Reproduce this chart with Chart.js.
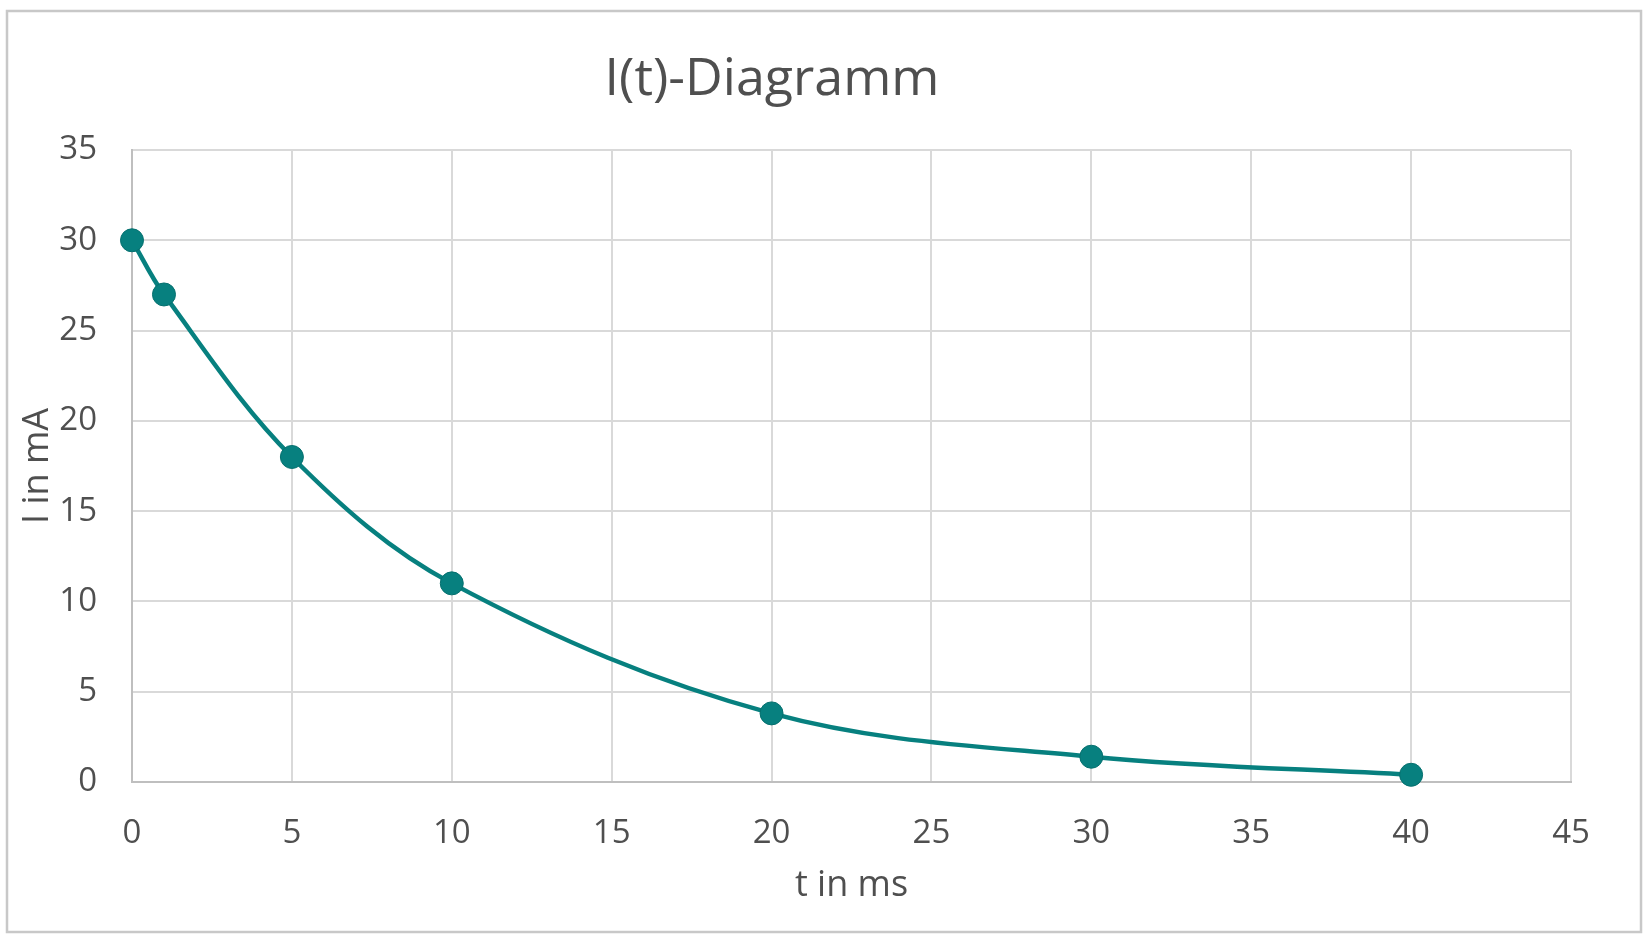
<!DOCTYPE html>
<html>
<head>
<meta charset="utf-8">
<title>I(t)-Diagramm</title>
<script src="https://cdn.jsdelivr.net/npm/chart.js@4.4.1/dist/chart.umd.min.js"></script>
<style>
    html, body { margin: 0; padding: 0; background: #fff; }
    #wrap { width: 1652px; height: 952px; position: relative; }
</style>
</head>
<body>
<div id="wrap"><canvas id="chart"></canvas></div>
<script>
// I(t) discharge curve values
const timeMs = [0, 1, 5, 10, 20, 30, 40];
const currentMa = [30, 27, 18, 11, 3.8, 1.4, 0.4];
const xTicks = { min: 0, max: 45, step: 5 };
const yTicks = { min: 0, max: 35, step: 5 };

const TEXT = '#4f4f4f';
const GRID = '#d9d9d9';
const AXIS = '#bfbfbf';
const TEAL = '#07807f';
const FONT = "'Open Sans', 'DejaVu Sans', sans-serif";

// outer frame + title (Excel style)
const framePlugin = {
    id: 'frame',
    beforeDraw(chart) {
        const ctx = chart.ctx;
        ctx.save();
        ctx.fillStyle = '#fff';
        ctx.fillRect(0, 0, chart.width, chart.height);
        ctx.strokeStyle = '#c8c8c8';
        ctx.lineWidth = 2.5;
        ctx.strokeRect(7, 11, 1634, 921);
        ctx.restore();
    },
    afterDraw(chart) {
        const ctx = chart.ctx;
        ctx.save();
        ctx.font = `52px ${FONT}`;
        ctx.fillStyle = TEXT;
        ctx.textAlign = 'center';
        ctx.textBaseline = 'alphabetic';
        ctx.fillText('I(t)-Diagramm', 772, 95);
        ctx.restore();
    }
};

const points = timeMs.map((t, i) => ({ x: t, y: currentMa[i] }));

new Chart(document.getElementById('chart'), {
    type: 'line',
    data: {
        datasets: [{
            label: 'I(t)',
            data: points,
            borderColor: TEAL,
            backgroundColor: TEAL,
            borderWidth: 4.5,
            tension: 0.35,
            pointRadius: 11.5,
            pointHoverRadius: 11.5,
            pointBackgroundColor: TEAL,
            pointBorderColor: '#06706f',
            pointBorderWidth: 1,
            clip: false
        }]
    },
    options: {
        responsive: true,
        maintainAspectRatio: false,
        animation: false,
        layout: { padding: { left: 0, right: 81, top: 150, bottom: 0 } },
        plugins: {
            legend: { display: false },
            tooltip: { enabled: false },
            title: { display: false }
        },
        scales: {
            x: {
                type: 'linear',
                min: xTicks.min,
                max: xTicks.max,
                afterFit: (scale) => { scale.height = 170; },
                grid: { color: GRID, lineWidth: 2, drawTicks: false },
                border: { color: AXIS, width: 2 },
                ticks: {
                    stepSize: xTicks.step,
                    padding: 32,
                    color: TEXT,
                    font: { family: FONT, size: 33 }
                },
                title: {
                    display: true,
                    text: 't in ms',
                    color: TEXT,
                    font: { family: FONT, size: 36 },
                    padding: { top: 0, bottom: 45 }
                }
            },
            y: {
                min: yTicks.min,
                max: yTicks.max,
                afterFit: (scale) => { scale.width = 132; },
                grid: { color: GRID, lineWidth: 2, drawTicks: false },
                border: { color: AXIS, width: 2 },
                ticks: {
                    stepSize: yTicks.step,
                    padding: 35,
                    color: TEXT,
                    font: { family: FONT, size: 33 }
                },
                title: {
                    display: true,
                    text: 'I in mA',
                    color: TEXT,
                    font: { family: FONT, size: 36 },
                    padding: { top: 16, bottom: 0 }
                }
            }
        }
    },
    plugins: [framePlugin]
});
</script>
</body>
</html>
